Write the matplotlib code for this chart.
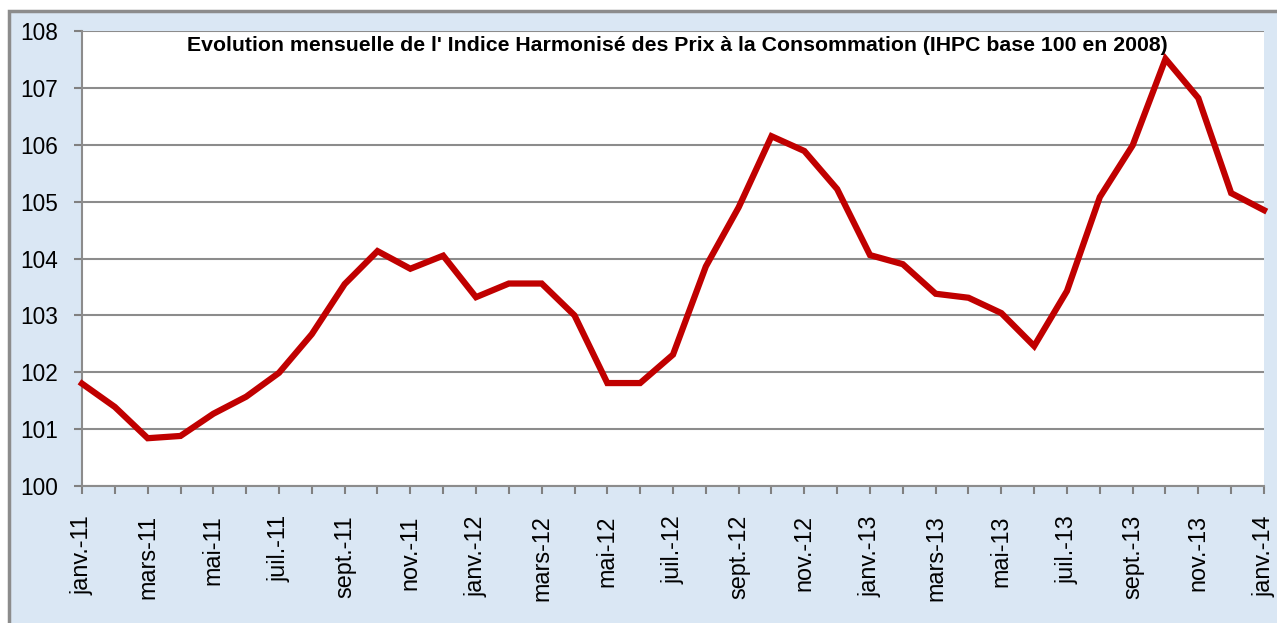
import matplotlib
matplotlib.use("Agg")
import matplotlib.pyplot as plt
from matplotlib.patches import Rectangle

months = ["janv.-11", "févr.-11", "mars-11", "avr.-11", "mai-11", "juin-11", "juil.-11", "août-11",
          "sept.-11", "oct.-11", "nov.-11", "déc.-11",
          "janv.-12", "févr.-12", "mars-12", "avr.-12", "mai-12", "juin-12", "juil.-12", "août-12",
          "sept.-12", "oct.-12", "nov.-12", "déc.-12",
          "janv.-13", "févr.-13", "mars-13", "avr.-13", "mai-13", "juin-13", "juil.-13", "août-13",
          "sept.-13", "oct.-13", "nov.-13", "déc.-13",
          "janv.-14"]
ihpc = [101.80, 101.39, 100.84, 100.88, 101.27, 101.57, 101.99, 102.67, 103.55, 104.13, 103.82, 104.05,
        103.32, 103.56, 103.56, 103.00, 101.81, 101.81, 102.31, 103.86, 104.90, 106.15, 105.89, 105.22,
        104.06, 103.90, 103.38, 103.31, 103.04, 102.46, 103.43, 105.08, 105.99, 107.51, 106.82, 105.15,
        104.85]
title = "Evolution mensuelle de l' Indice Harmonisé des Prix à la Consommation (IHPC base 100 en 2008)"

plt.rcParams['font.family'] = ['Liberation Sans', 'DejaVu Sans']

W, H = 1277, 623
fig = plt.figure(figsize=(W/100, H/100), dpi=100)
fig.patch.set_facecolor('white')

# outer chart frame
bg = fig.add_axes([0, 0, 1, 1], zorder=0)
bg.set_axis_off()
bg.set_xlim(0, W)
bg.set_ylim(H, 0)
bg.add_patch(Rectangle((9, 11), W + 20, H, facecolor='#dae7f4', edgecolor='#8c8c8c', linewidth=2.5))

ax = fig.add_axes([82/W, 1 - 486/H, (1264-82)/W, (486-31)/H], zorder=1)
ax.set_facecolor('white')
x = list(range(len(months)))
ax.plot(x, ihpc, color='#c00000', linewidth=4.5, solid_joinstyle='miter', zorder=3, clip_on=False)
ax.set_xlim(0, len(months) - 1)
ax.set_ylim(100, 108)
ax.set_yticks(range(100, 109))
ax.set_xticks(x)
ax.set_xticklabels([m if i % 2 == 0 else "" for i, m in enumerate(months)], rotation=90, fontsize=16.8)
ax.tick_params(axis='y', labelsize=16.3, length=6, width=1.5, color='#808080', pad=11)
ax.tick_params(axis='x', length=6, width=1.5, color='#808080', pad=15)
ax.grid(axis='y', color='#8c8c8c', linewidth=1.5)
ax.set_axisbelow(True)
for s in ['top', 'right']:
    ax.spines[s].set_visible(False)
for s in ['left', 'bottom']:
    ax.spines[s].set_color('#8c8c8c')
    ax.spines[s].set_linewidth(1.5)
ax.text(0.5035, 0.968, title, transform=ax.transAxes, ha='center', va='center',
        fontsize=15.3, fontweight='bold')

fig.savefig('out.png', dpi=100)
